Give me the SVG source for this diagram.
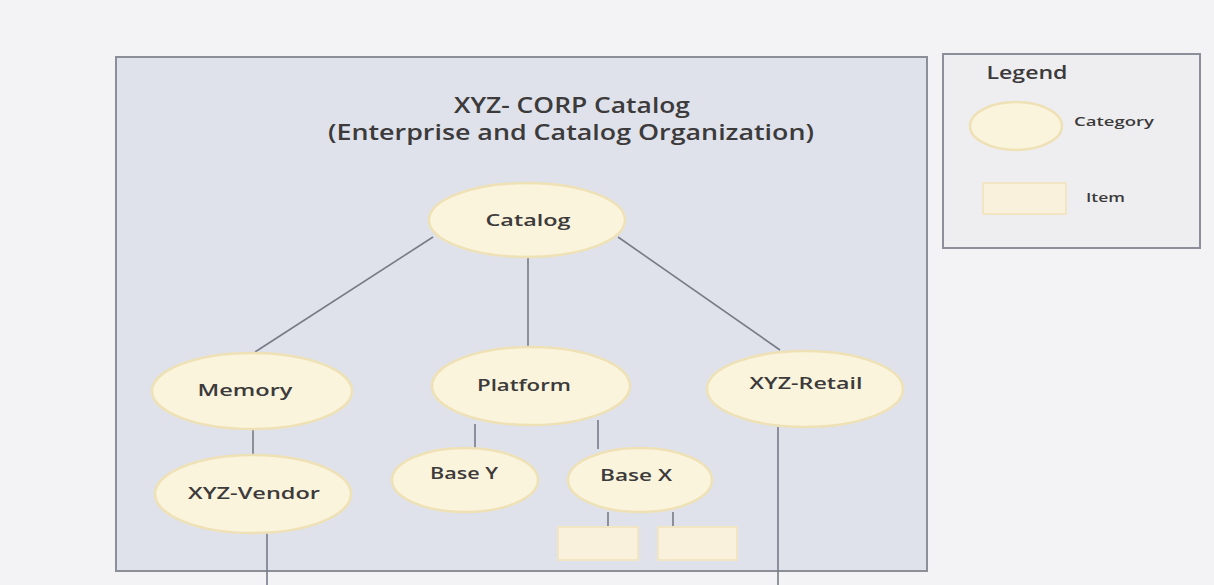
<svg xmlns="http://www.w3.org/2000/svg" width="1214" height="585" viewBox="0 0 1214 585">
<style>
.bg{fill:#f3f3f5}
.frame{fill:#dfe2ea;stroke:#8c8f9a;stroke-width:2}
.legend{fill:#eeeef1;stroke:#8c8f9a;stroke-width:2}
.cat{fill:#fbf4dd;stroke:#efe1b6;stroke-width:2.5}
.item{fill:#faf1dc;stroke:#f1e5c4;stroke-width:2}
.conn line{stroke:#777b87;stroke-width:1.6}
text{font-family:"Open Sans","Liberation Sans",sans-serif;font-weight:600;fill:#3c3a3a;text-anchor:middle}
.title{font-size:21px}
.lbl{font-size:17px}
.small{font-size:12px;text-anchor:start}
</style>
<rect class="bg" x="0" y="0" width="1214" height="585"/>
<g id="frame">
<rect class="frame" x="116" y="57" width="811" height="514"/>
<text class="title" x="572" y="113" textLength="236" lengthAdjust="spacingAndGlyphs">XYZ- CORP Catalog</text>
<text class="title" x="571" y="140" textLength="486" lengthAdjust="spacingAndGlyphs">(Enterprise and Catalog Organization)</text>
</g>
<g id="connectors" class="conn">
<line x1="433" y1="237" x2="255" y2="352"/>
<line x1="528" y1="257" x2="528" y2="347"/>
<line x1="618" y1="237" x2="780" y2="350"/>
<line x1="253" y1="429" x2="253" y2="455"/>
<line x1="267" y1="533" x2="267" y2="585"/>
<line x1="475" y1="424" x2="475" y2="448"/>
<line x1="598" y1="420" x2="598" y2="449"/>
<line x1="608" y1="512" x2="608" y2="527"/>
<line x1="673" y1="512" x2="673" y2="527"/>
<line x1="778" y1="427" x2="778" y2="585"/>
</g>
<g id="catalog">
<ellipse class="cat" cx="527" cy="220" rx="98" ry="37"/>
<text class="lbl" x="528" y="226" textLength="85" lengthAdjust="spacingAndGlyphs">Catalog</text>
</g>
<g id="memory">
<ellipse class="cat" cx="252" cy="391" rx="100" ry="38"/>
<text class="lbl" x="245" y="396" textLength="95" lengthAdjust="spacingAndGlyphs">Memory</text>
</g>
<g id="platform">
<ellipse class="cat" cx="531" cy="386" rx="99" ry="39"/>
<text class="lbl" x="524" y="391" textLength="94" lengthAdjust="spacingAndGlyphs">Platform</text>
</g>
<g id="xyz-retail">
<ellipse class="cat" cx="805" cy="389" rx="98" ry="38"/>
<text class="lbl" x="806" y="389" textLength="113" lengthAdjust="spacingAndGlyphs">XYZ-Retail</text>
</g>
<g id="xyz-vendor">
<ellipse class="cat" cx="253" cy="494" rx="98" ry="39"/>
<text class="lbl" x="254" y="499" textLength="132" lengthAdjust="spacingAndGlyphs">XYZ-Vendor</text>
</g>
<g id="base-y">
<ellipse class="cat" cx="465" cy="480" rx="73" ry="32"/>
<text class="lbl" x="464" y="479" textLength="68" lengthAdjust="spacingAndGlyphs">Base Y</text>
</g>
<g id="base-x">
<ellipse class="cat" cx="640" cy="480" rx="72" ry="32"/>
<text class="lbl" x="636" y="481" textLength="72" lengthAdjust="spacingAndGlyphs">Base X</text>
</g>
<g id="item-1">
<rect class="item" x="558" y="527" width="80" height="33"/>
</g>
<g id="item-2">
<rect class="item" x="658" y="527" width="79" height="33"/>
</g>
<g id="legend">
<rect class="legend" x="943" y="54" width="257" height="194"/>
<text x="1027" y="79" style="font-size:18px" textLength="81" lengthAdjust="spacingAndGlyphs">Legend</text>
<ellipse class="cat" cx="1016" cy="126" rx="46" ry="24"/>
<text class="small" x="1074" y="126" textLength="80" lengthAdjust="spacingAndGlyphs">Category</text>
<rect class="item" x="983" y="183" width="83" height="31"/>
<text class="small" x="1086" y="202" textLength="39" lengthAdjust="spacingAndGlyphs">Item</text>
</g>
</svg>
